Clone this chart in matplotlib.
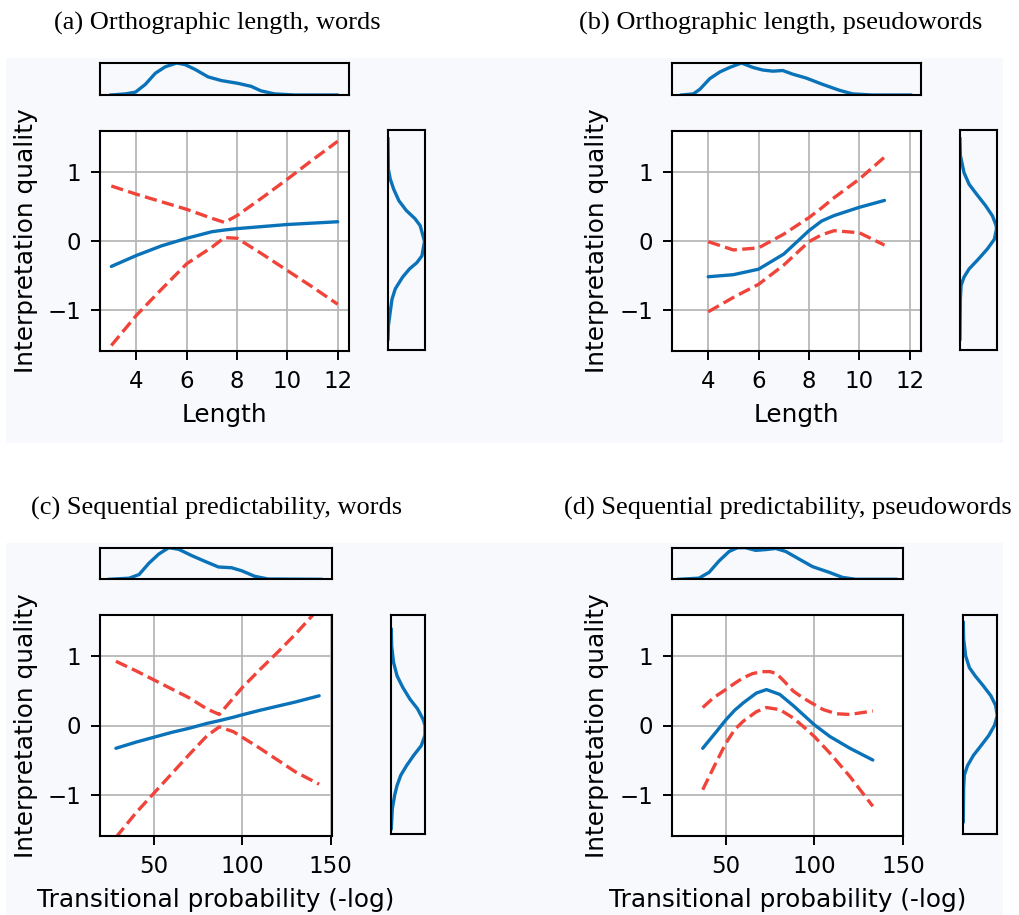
import numpy as np
import matplotlib
matplotlib.use("Agg")
import matplotlib.pyplot as plt
from matplotlib.patches import Rectangle

# ---------------- data ----------------
titles = ["(a) Orthographic length, words",
          "(b) Orthographic length, pseudowords",
          "(c) Sequential predictability, words",
          "(d) Sequential predictability, pseudowords"]
xlabels = ["Length", "Length",
           "Transitional probability (-log)", "Transitional probability (-log)"]
ylabel = "Interpretation quality"
len_ticks = [4, 6, 8, 10, 12]
tp_ticks = [50, 100, 150]
y_ticks = [-1, 0, 1]

# (a) length, words
a_x = [3, 4, 5, 6, 7, 7.5, 8, 9, 10, 11, 12]
a_fit = [-0.37, -0.21, -0.07, 0.04, 0.135, 0.16, 0.18, 0.21, 0.24, 0.26, 0.28]
a_upper = [0.80, 0.68, 0.57, 0.46, 0.33, 0.27, 0.37, 0.63, 0.90, 1.18, 1.45]
a_lower = [-1.52, -1.08, -0.70, -0.33, -0.09, 0.05, 0.04, -0.19, -0.43, -0.67, -0.92]
a_kx = [2.98, 3.57, 3.96, 4.35, 4.75, 5.14, 5.60, 5.93, 6.33, 6.85, 7.38, 8.03, 8.56, 8.95, 9.48, 10.27, 11.97]
a_kd = [0, 0.035, 0.09, 0.33, 0.68, 0.88, 1.0, 0.95, 0.80, 0.565, 0.45, 0.365, 0.27, 0.13, 0.035, 0, 0]
a_ky = [1.47, 1.03, 0.89, 0.74, 0.57, 0.43, 0.31, 0.21, 0.06, -0.02, -0.08, -0.23, -0.33, -0.42, -0.54, -0.71, -0.86, -1.05, -1.25, -1.44]
a_kyd = [0, 0.01, 0.06, 0.155, 0.30, 0.50, 0.74, 0.88, 0.96, 1.0, 0.98, 0.93, 0.79, 0.59, 0.40, 0.20, 0.11, 0.06, 0.01, 0]

# (b) length, pseudowords
b_x = [4, 5, 6, 7, 7.5, 8, 8.5, 9, 10, 11]
b_fit = [-0.52, -0.49, -0.41, -0.19, -0.02, 0.15, 0.29, 0.37, 0.49, 0.59]
b_upper = [-0.01, -0.13, -0.10, 0.10, 0.22, 0.34, 0.48, 0.63, 0.90, 1.22]
b_lower = [-1.03, -0.82, -0.63, -0.35, -0.18, -0.01, 0.09, 0.15, 0.12, -0.06]
b_kx = [2.94, 3.41, 3.67, 4.06, 4.46, 4.85, 5.32, 5.78, 6.17, 6.57, 6.96, 7.36, 7.89, 8.55, 9.20, 9.73, 10.52, 12.04]
b_kd = [0, 0.035, 0.18, 0.51, 0.72, 0.86, 1.0, 0.86, 0.78, 0.745, 0.765, 0.65, 0.53, 0.33, 0.15, 0.035, 0, 0]
b_ky = [1.47, 1.23, 0.98, 0.81, 0.67, 0.50, 0.35, 0.21, 0.16, 0.01, -0.13, -0.28, -0.42, -0.54, -0.66, -0.86, -1.44]
b_kyd = [0, 0.01, 0.11, 0.25, 0.45, 0.70, 0.89, 0.99, 1.0, 0.94, 0.75, 0.50, 0.25, 0.11, 0.03, 0.01, 0]

# (c) transitional probability, words
c_x = [28.5, 40, 50, 60, 70, 80, 87, 95, 100, 110, 120, 130, 143.5]
c_fit = [-0.33, -0.24, -0.17, -0.10, -0.04, 0.03, 0.07, 0.12, 0.155, 0.22, 0.28, 0.34, 0.43]
c_upper = [0.93, 0.79, 0.66, 0.53, 0.40, 0.24, 0.16, 0.40, 0.55, 0.81, 1.06, 1.32, 1.70]
c_lower = [-1.62, -1.26, -0.98, -0.70, -0.42, -0.15, -0.02, -0.09, -0.17, -0.33, -0.50, -0.67, -0.85]
c_kx = [24.7, 36.0, 41.6, 47.2, 52.8, 58.4, 64.0, 71.6, 79.0, 86.5, 94.0, 99.7, 107.1, 114.6, 144.6]
c_kd = [0, 0.035, 0.15, 0.51, 0.80, 1.0, 0.95, 0.745, 0.565, 0.39, 0.365, 0.27, 0.094, 0.01, 0]
c_ky = [1.39, 1.15, 0.91, 0.71, 0.54, 0.37, 0.23, 0.08, -0.01, -0.16, -0.31, -0.45, -0.60, -0.74, -0.89, -1.03, -1.23, -1.52]
c_kyd = [0, 0.01, 0.065, 0.17, 0.34, 0.55, 0.77, 0.93, 0.99, 0.99, 0.88, 0.66, 0.45, 0.28, 0.17, 0.10, 0.03, 0]

# (d) transitional probability, pseudowords
d_x = [37, 44.7, 50, 55, 60, 67.3, 73, 80.5, 88, 94, 100, 108.8, 120.1, 133]
d_fit = [-0.33, -0.09, 0.08, 0.22, 0.33, 0.47, 0.52, 0.45, 0.29, 0.15, 0.01, -0.16, -0.33, -0.50]
d_ux = [37, 43, 50, 55, 59.8, 65, 70, 75, 78.7, 83, 88, 93, 97.5, 105, 112.5, 120.1, 133]
d_upper = [0.26, 0.40, 0.52, 0.61, 0.69, 0.75, 0.78, 0.78, 0.75, 0.64, 0.50, 0.41, 0.34, 0.23, 0.17, 0.16, 0.21]
d_lx = [37, 43.3, 50, 55, 59.8, 67.3, 73, 80.5, 88, 94, 100, 108.8, 120.1, 133]
d_lower = [-0.93, -0.60, -0.26, -0.06, 0.06, 0.20, 0.26, 0.23, 0.11, -0.02, -0.16, -0.40, -0.74, -1.17]
d_kx = [23.6, 34.9, 40.6, 46.2, 51.9, 56.6, 61.3, 66.9, 72.6, 78.2, 83.9, 91.4, 99.0, 108.4, 115.9, 123.4, 146.0]
d_kd = [0, 0.036, 0.22, 0.58, 0.88, 1.0, 1.0, 0.915, 0.94, 0.976, 0.88, 0.64, 0.40, 0.22, 0.06, 0, 0]
d_ky = [1.49, 1.25, 1.0, 0.83, 0.71, 0.57, 0.42, 0.28, 0.13, -0.01, -0.16, -0.31, -0.45, -0.60, -0.74, -0.93, -1.42]
d_kyd = [0, 0.01, 0.07, 0.18, 0.35, 0.58, 0.81, 0.95, 1.0, 0.92, 0.75, 0.52, 0.30, 0.125, 0.03, 0.01, 0]

# ---------------- style ----------------
BLUE = "#0a72b8"
RED = "#f0443a"
BG = "#f8f9fc"
W, H = 1019, 915

fig = plt.figure(figsize=(W / 100, H / 100), dpi=100)
fig.patch.set_facecolor("white")


def rect(x0, y0, x1, y1):
    return [x0 / W, 1 - y1 / H, (x1 - x0) / W, (y1 - y0) / H]


# light panel backgrounds
for (x0, y0, x1, y1) in [(6, 58, 508, 443), (508, 58, 1003, 443),
                         (6, 543, 508, 915), (508, 543, 1003, 915)]:
    fig.patches.append(Rectangle((x0 / W, 1 - y1 / H), (x1 - x0) / W, (y1 - y0) / H,
                                 transform=fig.transFigure, facecolor=BG,
                                 edgecolor="none", zorder=-10))

panels = [
    dict(main=(100, 131, 349, 351), top=(100, 63, 349, 95), right=(388, 130, 424.5, 350),
         xlim=(2.55, 12.45), xticks=len_ticks,
         fx=a_x, fit=a_fit, ux=a_x, up=a_upper, lx=a_x, lo=a_lower,
         kx=a_kx, kd=a_kd, ky=a_ky, kyd=a_kyd, title_xy=(217, 30)),
    dict(main=(671.7, 131, 921, 351), top=(671.7, 63, 921, 95), right=(960, 130, 996.5, 350),
         xlim=(2.55, 12.45), xticks=len_ticks,
         fx=b_x, fit=b_fit, ux=b_x, up=b_upper, lx=b_x, lo=b_lower,
         kx=b_kx, kd=b_kd, ky=b_ky, kyd=b_kyd, title_xy=(781, 30)),
    dict(main=(100, 615, 331.5, 836), top=(100, 547.7, 331.5, 579.3), right=(391.3, 615, 425.3, 834),
         xlim=(19.5, 150.5), xticks=tp_ticks,
         fx=c_x, fit=c_fit, ux=c_x, up=c_upper, lx=c_x, lo=c_lower,
         kx=c_kx, kd=c_kd, ky=c_ky, kyd=c_kyd, title_xy=(217, 515)),
    dict(main=(671.7, 615, 903.3, 836), top=(671.7, 547.7, 903.3, 579.3), right=(963.3, 615, 997.3, 834),
         xlim=(19.5, 150.2), xticks=tp_ticks,
         fx=d_x, fit=d_fit, ux=d_ux, up=d_upper, lx=d_lx, lo=d_lower,
         kx=d_kx, kd=d_kd, ky=d_ky, kyd=d_kyd, title_xy=(787.5, 515)),
]

AX_LW = 1.5
LINE_LW = 2.4

for i, p in enumerate(panels):
    ax = fig.add_axes(rect(*p["main"]))
    ax.set_facecolor("white")
    ax.plot(p["fx"], p["fit"], color=BLUE, lw=LINE_LW, solid_capstyle="round",
            solid_joinstyle="round")
    ax.plot(p["ux"], p["up"], color=RED, lw=LINE_LW, ls="--", dash_joinstyle="round")
    ax.plot(p["lx"], p["lo"], color=RED, lw=LINE_LW, ls="--", dash_joinstyle="round")
    ax.set_xlim(*p["xlim"])
    ax.set_ylim(-1.6, 1.6)
    ax.set_xticks(p["xticks"])
    ax.set_yticks(y_ticks)
    ax.grid(True, color="#b8b8b8", lw=1.3)
    ax.set_axisbelow(True)
    ax.tick_params(labelsize=16.5, width=1.4, length=6.5, pad=7)
    for s in ax.spines.values():
        s.set_linewidth(AX_LW)
    ax.set_xlabel(xlabels[i], fontsize=17.8, labelpad=7.5)
    ax.set_ylabel(ylabel, fontsize=17.8, labelpad=7)

    axt = fig.add_axes(rect(*p["top"]))
    axt.set_facecolor(BG)
    axt.plot(p["kx"], p["kd"], color=BLUE, lw=LINE_LW, solid_joinstyle="round")
    axt.set_xlim(*p["xlim"])
    axt.set_ylim(0, 1.0)
    axt.set_xticks([])
    axt.set_yticks([])
    for s in axt.spines.values():
        s.set_linewidth(AX_LW)

    axr = fig.add_axes(rect(*p["right"]))
    axr.set_facecolor(BG)
    axr.plot(p["kyd"], p["ky"], color=BLUE, lw=LINE_LW, solid_joinstyle="round")
    axr.set_xlim(0, 1.0)
    axr.set_ylim(-1.6, 1.6)
    axr.set_xticks([])
    axr.set_yticks([])
    for s in axr.spines.values():
        s.set_linewidth(AX_LW)

    tx, ty = p["title_xy"]
    fig.text(tx / W, 1 - ty / H, titles[i], ha="center", va="baseline",
             fontsize=19, family=["Liberation Serif", "DejaVu Serif"])

fig.savefig("out.png", dpi=100, facecolor="white")
